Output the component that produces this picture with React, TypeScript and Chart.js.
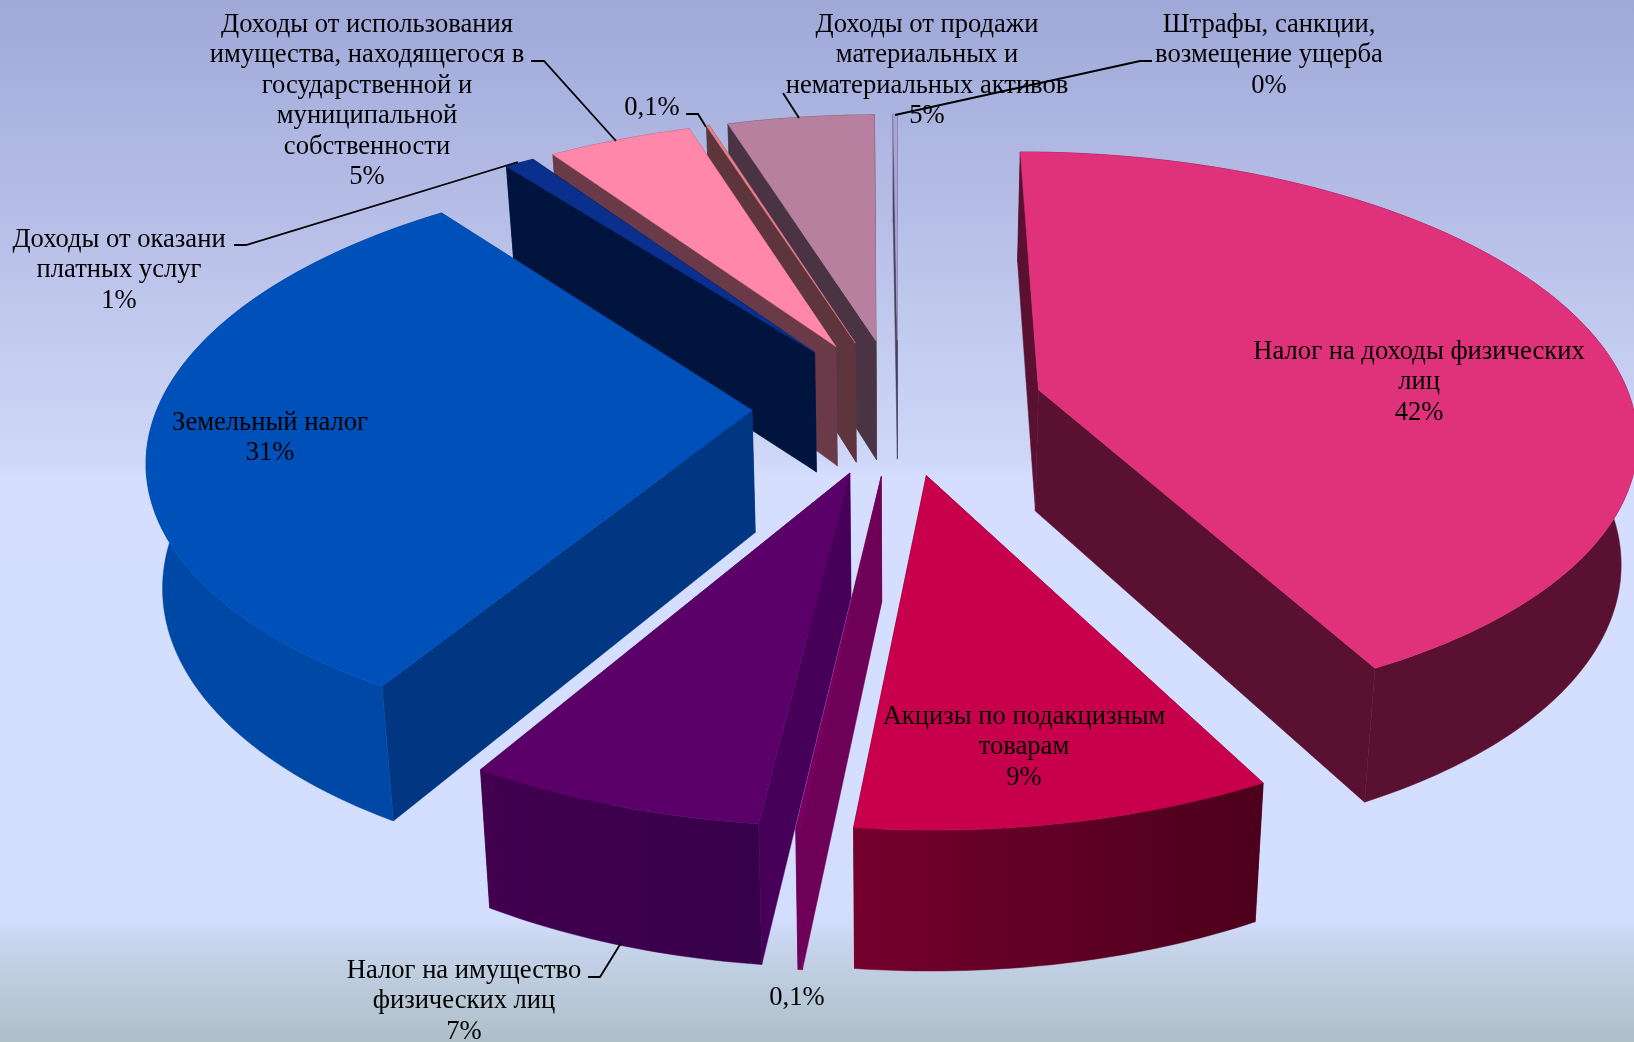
import React, { useEffect, useRef } from "react";
import { Chart, registerables } from "chart.js";

Chart.register(...registerables);

const categories = [
  "Налог на доходы физических лиц",
  "Акцизы по подакцизным товарам",
  "Акцизы (прочее)",
  "Налог на имущество физических лиц",
  "Земельный налог",
  "Доходы от оказани платных услуг",
  "Доходы от использования имущества",
  "Прочие доходы",
  "Доходы от продажи активов",
  "Штрафы, санкции, возмещение ущерба",
];
const values = [42.3, 9.4, 0.1, 6.7, 31, 0.95, 4.6, 0.1, 4.7, 0.14];
const topColors = ["#E0317B", "#C8004C", "#7A0060", "#5A0068", "#0050BA", "#0A2F8C", "#FF87AA", "#E8808C", "#B8809F", "#A8A4D4"];
const faceColors = ["#5A1030", "#5A0028", "#6E0058", "#47005A", "#003682", "#00143E", "#6B3A48", "#5E353C", "#4A3444", "#4A4060"];
const wallStart = ["#5A1030", "#4C001C", "#6E0058", "#36004A", "#0048A6", "#00143E", "#6B3A48", "#5E353C", "#4A3444", "#4A4060"];
const wallEnd = ["#5A1030", "#74002C", "#6E0058", "#42004F", "#003C92", "#00143E", "#6B3A48", "#5E353C", "#4A3444", "#4A4060"];

const labelLines = [
  ["Налог на доходы физических", "лиц", "42%"],
  ["Акцизы по подакцизным", "товарам", "9%"],
  ["0,1%"],
  ["Налог на имущество", "физических лиц", "7%"],
  ["Земельный налог", "31%"],
  ["Доходы от оказани", "платных услуг", "1%"],
  ["Доходы от использования", "имущества, находящегося в", "государственной и", "муниципальной", "собственности", "5%"],
  ["0,1%"],
  ["Доходы от продажи", "материальных и", "нематериальных активов", "5%"],
  ["Штрафы, санкции,", "возмещение ущерба", "0%"],
];
const labelAnchors = [
  [1419, 352], [1024, 717], [797, 998], [464, 971], [270, 423],
  [119, 240], [367, 25], [652, 108], [927, 25], [1269, 25],
];
const leaders: (number[][] | null)[] = [
  null, null, null,
  [[588, 977], [600, 977], [621, 943]],
  null,
  [[234, 245], [246, 245], [518, 162]],
  [[531, 61], [544, 61], [616, 141]],
  [[686, 114], [698, 114], [706, 127]],
  [[783, 93], [799, 118]],
  [[1152, 61], [1140, 61], [895, 115]],
];

const VIEW = { cx: 898, cy: 406, fx: 594, gy: 278, k: 0.15, depth: 122, squeeze: 0.022, power: 0.7 };

function project(X: number, Y: number) {
  const W = 1 + VIEW.k * Y;
  return { x: VIEW.cx + (VIEW.fx * X) / W, y: VIEW.cy - (VIEW.gy * Y) / W, W };
}
function lower(p: { x: number; y: number; W: number }) {
  return {
    x: VIEW.cx + (p.x - VIEW.cx) * (1 - VIEW.squeeze),
    y: p.y + VIEW.depth * Math.pow(p.W, -VIEW.power),
    W: p.W,
  };
}
function poly(ctx: CanvasRenderingContext2D, pts: { x: number; y: number }[], color: any) {
  ctx.beginPath();
  pts.forEach((p, i) => (i ? ctx.lineTo(p.x, p.y) : ctx.moveTo(p.x, p.y)));
  ctx.closePath();
  ctx.fillStyle = color;
  ctx.strokeStyle = color;
  ctx.lineWidth = 0.5;
  ctx.fill();
  ctx.stroke();
}

const solidPie = {
  id: "solidPie",
  beforeDraw(chart: any) {
    const { ctx, width, height } = chart;
    const g = ctx.createLinearGradient(0, 0, 0, height);
    g.addColorStop(0, "#A0A8D8");
    g.addColorStop(0.44, "#CFD7F8");
    g.addColorStop(0.46, "#D5DEFF");
    g.addColorStop(0.88, "#D3DEFE");
    g.addColorStop(0.91, "#C6D3EA");
    g.addColorStop(1, "#AEBFC8");
    ctx.fillStyle = g;
    ctx.fillRect(0, 0, width, height);
  },
  beforeDatasetsDraw(chart: any) {
    const ctx: CanvasRenderingContext2D = chart.ctx;
    const arcs: any[] = chart.getDatasetMeta(0).data;
    const order = arcs
      .map((a, i) => ({ a, i, mid: (a.startAngle + a.endAngle) / 2 }))
      .sort((p, q) => -Math.sin(q.mid) - -Math.sin(p.mid));
    for (const { a, i, mid } of order) {
      const ex = a.options.offset / a.outerRadius;
      const ox = ex * Math.cos(mid), oy = -ex * Math.sin(mid);
      const apex = project(ox, oy);
      const n = Math.max(2, Math.ceil(((a.endAngle - a.startAngle) * 180) / Math.PI));
      const rim = [];
      for (let s = 0; s <= n; s++) {
        const t = a.startAngle + ((a.endAngle - a.startAngle) * s) / n;
        rim.push(project(ox + Math.cos(t), oy - Math.sin(t)));
      }
      poly(ctx, [apex, rim[0], lower(rim[0]), lower(apex)], faceColors[i]);
      poly(ctx, [apex, rim[n], lower(rim[n]), lower(apex)], faceColors[i]);
      const low = rim.map(lower);
      const g = ctx.createLinearGradient(low[0].x, 0, low[n].x, 0);
      g.addColorStop(0, wallStart[i]);
      g.addColorStop(1, wallEnd[i]);
      poly(ctx, [...rim, ...low.slice().reverse()], g);
      poly(ctx, [apex, ...rim], topColors[i]);
    }
    return false;
  },
  afterDraw(chart: any) {
    const ctx: CanvasRenderingContext2D = chart.ctx;
    ctx.save();
    ctx.strokeStyle = "#000";
    ctx.lineWidth = 1.8;
    leaders.forEach((l) => {
      if (!l) return;
      ctx.beginPath();
      l.forEach(([x, y], i) => (i ? ctx.lineTo(x, y) : ctx.moveTo(x, y)));
      ctx.stroke();
    });
    ctx.fillStyle = "#000";
    ctx.font = '26.6px "Liberation Serif"';
    ctx.textAlign = "center";
    ctx.textBaseline = "middle";
    labelLines.forEach((lines, i) => {
      const [x, y] = labelAnchors[i];
      lines.forEach((t, j) => ctx.fillText(t, x, y + j * 30.4));
    });
    ctx.restore();
  },
};

export default function App() {
  const ref = useRef<HTMLCanvasElement>(null);
  useEffect(() => {
    const chart = new Chart(ref.current!, {
      type: "pie",
      data: {
        labels: categories,
        datasets: [{ data: values, backgroundColor: topColors, offset: 114, borderWidth: 0 }],
      },
      options: {
        animation: false,
        responsive: false,
        rotation: 0,
        layout: { padding: 0 },
        plugins: { legend: { display: false }, tooltip: { enabled: false } },
      },
      plugins: [solidPie],
    } as any);
    return () => chart.destroy();
  }, []);
  return (
    <div style={{ position: "absolute", left: 0, top: 0, width: 1634, height: 1042, overflow: "hidden" }}>
      <canvas ref={ref} width={1634} height={1042} style={{ display: "block" }} />
    </div>
  );
}
